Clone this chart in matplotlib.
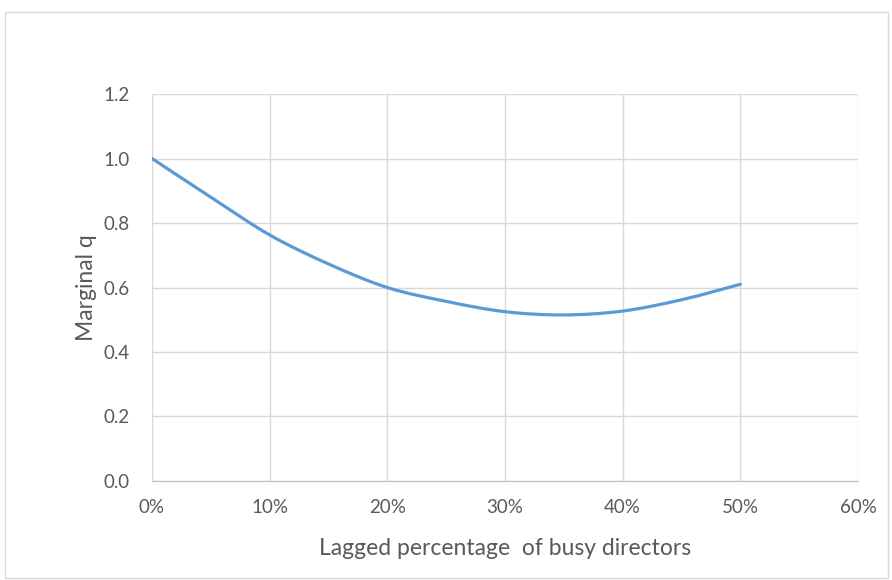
import matplotlib.pyplot as plt
from matplotlib.patches import Rectangle, PathPatch
from matplotlib.path import Path
from matplotlib.ticker import FuncFormatter

# values
busy_pct = [0, 5, 10, 15, 20, 25, 30, 35, 40, 45, 50]
marginal_q = [1.0, 0.88, 0.763, 0.673, 0.60, 0.557, 0.525, 0.515, 0.527, 0.562, 0.61]
x_ticks = [0, 10, 20, 30, 40, 50, 60]
y_ticks = [0.0, 0.2, 0.4, 0.6, 0.8, 1.0, 1.2]

plt.rcParams['font.family'] = ['Lato', 'DejaVu Sans']
grey_text = '#595959'


def smooth_path(xs, ys):
    # excel style smoothed line: bezier segments through the data points
    verts = [(xs[0], ys[0])]
    codes = [Path.MOVETO]
    n = len(xs)
    for i in range(n - 1):
        x0, y0 = (xs[i - 1], ys[i - 1]) if i > 0 else (xs[i], ys[i])
        x3, y3 = (xs[i + 2], ys[i + 2]) if i + 2 < n else (xs[i + 1], ys[i + 1])
        c1 = (xs[i] + (xs[i + 1] - x0) / 6, ys[i] + (ys[i + 1] - y0) / 6)
        c2 = (xs[i + 1] - (x3 - xs[i]) / 6, ys[i + 1] - (y3 - ys[i]) / 6)
        verts += [c1, c2, (xs[i + 1], ys[i + 1])]
        codes += [Path.CURVE4] * 3
    return Path(verts, codes)


fig = plt.figure(figsize=(8.92, 5.8), dpi=100)
ax = fig.add_axes([0.1704, 0.1707, 0.7915, 0.6672])

# chart area border
fig.patches.append(Rectangle((0.006, 0.004), 0.99, 0.976, transform=fig.transFigure,
                             fill=False, edgecolor='#d9d9d9', linewidth=1.0))

ax.add_patch(PathPatch(smooth_path(busy_pct, marginal_q), facecolor='none',
                       edgecolor='#5b9bd5', linewidth=2.3, capstyle='round'))

ax.set_xlim(0, 60)
ax.set_ylim(0, 1.2)
ax.set_xticks(x_ticks)
ax.set_yticks(y_ticks)
ax.xaxis.set_major_formatter(FuncFormatter(lambda v, p: f"{v:.0f}%"))
ax.yaxis.set_major_formatter(FuncFormatter(lambda v, p: f"{v:.1f}"))
ax.grid(True, color='#d9d9d9', linewidth=1.0)
ax.set_axisbelow(True)
for s in ['top', 'right', 'left']:
    ax.spines[s].set_visible(False)
ax.spines['bottom'].set_color('#bfbfbf')
ax.tick_params(length=0, labelsize=13.5, colors=grey_text)
ax.tick_params(axis='x', pad=13)
ax.tick_params(axis='y', pad=16)

ax.set_xlabel('Lagged percentage  of busy directors', fontsize=16.5, color=grey_text, labelpad=16)
ax.set_ylabel('Marginal q', fontsize=16.5, color=grey_text, labelpad=5)

fig.savefig('out.png', dpi=100)
